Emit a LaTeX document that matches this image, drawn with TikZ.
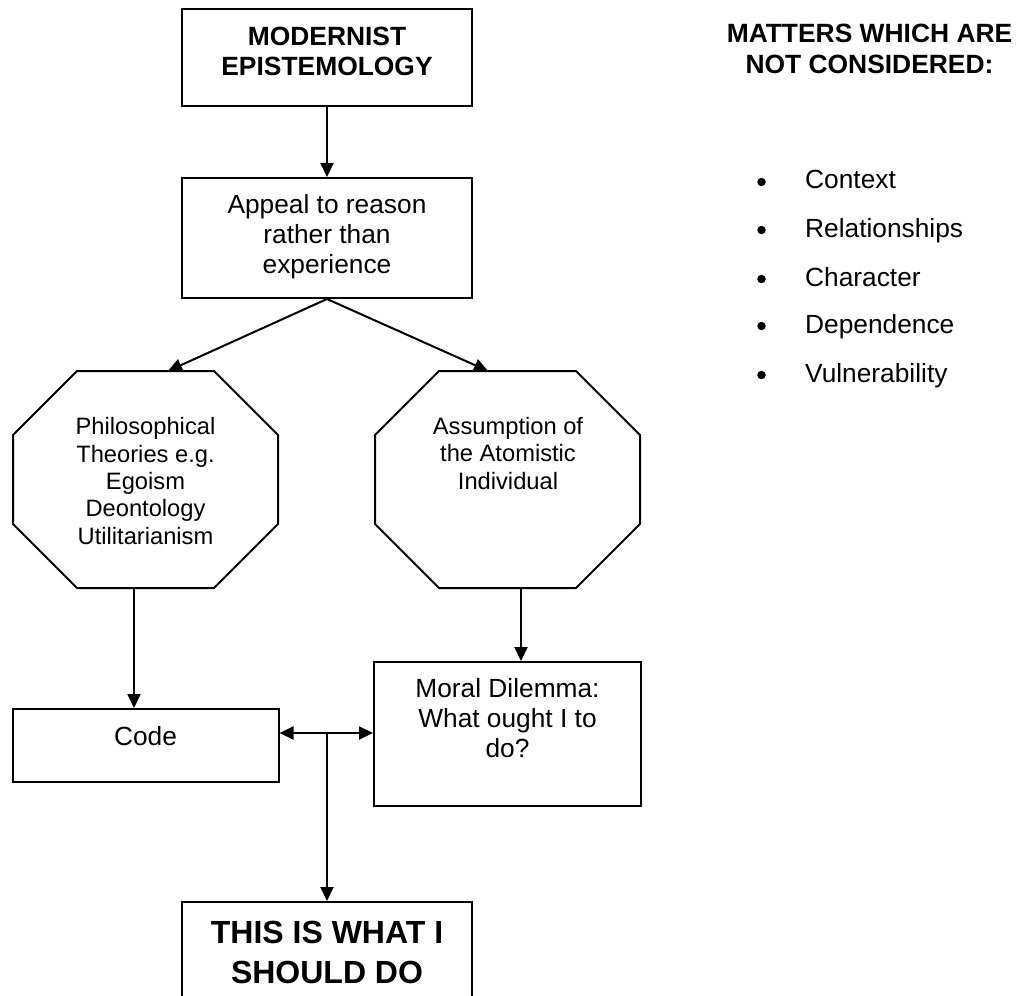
\documentclass[tikz,border=0pt]{standalone}
\usepackage{fontspec}
\setmainfont{Liberation Sans}
\usetikzlibrary{arrows.meta,calc}
\begin{document}
\begin{tikzpicture}[x=1pt,y=-1pt,
  ln/.style={line width=2pt, line join=miter},
  box/.style={draw, line width=2pt, rectangle, inner sep=0pt},
  ghost/.style={inner sep=0pt, outer sep=0pt, minimum width=265pt, minimum height=217pt},
  arr/.style={line width=2pt, -{Triangle[length=14pt,width=13pt]}},
  darr/.style={line width=2pt, {Triangle[length=14pt,width=13pt]}-{Triangle[length=14pt,width=13pt]}},
  txt/.style={anchor=base, align=center, inner sep=0pt, font=\fontsize{26.3}{30}\selectfont},
  btxt/.style={anchor=base, align=center, inner sep=0pt, font=\fontsize{26.4}{30}\selectfont\bfseries},
  otxt/.style={anchor=base, align=center, inner sep=0pt, font=\fontsize{23.7}{27.3}\selectfont},
  bullet/.style={circle, fill, inner sep=0pt, minimum size=8.5pt},
]
\useasboundingbox (0,0) rectangle (1019,995);
\clip (0,0) rectangle (1019,995);

% boxes
\node[box, minimum width=290pt, minimum height=97pt] (top) at (327,57.5) {};
\node[box, minimum width=290pt, minimum height=120pt] (appeal) at (327,238) {};
\node[ghost] (oL) at (145.5,479.5) {};
\node[ghost] (oR) at (507.5,479.5) {};
\node[box, minimum width=266pt, minimum height=73pt] (code) at (145.5,745.5) {};
\node[box, minimum width=267pt, minimum height=144pt] (moral) at (507.5,734) {};
\node[box, minimum width=290pt, minimum height=120pt] (bot) at (327,962) {};

% octagons
\foreach \o in {oL,oR}{
  \draw[ln] ($(\o.north west)+(64,0)$) -- ($(\o.north east)+(-64,0)$)
    -- ($(\o.north east)+(0,64)$) -- ($(\o.south east)+(0,-64)$)
    -- ($(\o.south east)+(-64,0)$) -- ($(\o.south west)+(64,0)$)
    -- ($(\o.south west)+(0,-64)$) -- ($(\o.north west)+(0,64)$) -- cycle;
}

% texts (base anchor = baseline of the last line)
\node[btxt] (t1) at (327,76) {MODERNIST\\EPISTEMOLOGY};
\node[txt] (t2) at (327,273) {Appeal to reason\\rather than\\experience};
\node[otxt] (t3) at (145.5,544) {Philosophical\\Theories e.g.\\Egoism\\Deontology\\Utilitarianism};
\node[otxt] (t4) at (508,489) {Assumption of\\the Atomistic\\Individual};
\node[txt] (t5) at (145.5,745) {Code};
\node[txt] (t6) at (507.5,757) {Moral Dilemma:\\What ought I to\\do?};
\node[btxt, font=\fontsize{32}{40}\selectfont\bfseries] (t7) at (327,983) {THIS IS WHAT I\\SHOULD DO};
\node[btxt, font=\fontsize{26.4}{31}\selectfont\bfseries] (h) at (869.5,74) {MATTERS WHICH ARE\\NOT CONSIDERED:};

\foreach \y/\t [count=\i] in {189/Context,237/Relationships,286/Character,333/Dependence,382/Vulnerability}{
  \node[bullet] (b\i) at (761.5,\y-7) {};
  \node[txt, anchor=base west] (l\i) at (805,\y) {\t};
}

% connectors
\coordinate (lt) at (168,0);
\coordinate (rt) at (488,0);
\coordinate (lx) at (134,0);
\coordinate (rx) at (521,0);
\coordinate (hy) at (0,733);
\draw[arr] (top.south) -- (appeal.north);
\draw[arr] (appeal.south) -- (oL.north -| lt);
\draw[arr] (appeal.south) -- (oR.north -| rt);
\draw[arr] (oL.south -| lx) -- (code.north -| lx);
\draw[arr] (oR.south -| rx) -- (moral.north -| rx);
\draw[darr] (code.east |- hy) -- (moral.west |- hy);
\coordinate (junc) at (bot.north |- hy);
\draw[arr] (junc) -- (bot.north);
\end{tikzpicture}
\end{document}
